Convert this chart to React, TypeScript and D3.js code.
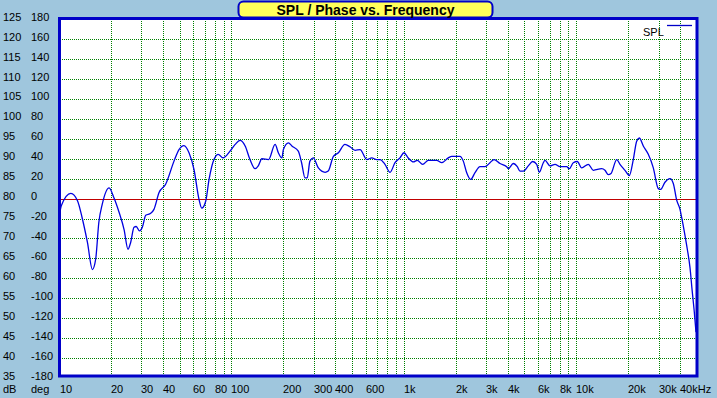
import React, { useEffect, useRef } from "react";
import * as d3 from "d3";

// SPL response (Hz, dB)
const freqHz = [
  10.1, 10.3, 11.7, 12.8, 13.6, 14.6, 15.6, 16.3, 17.0, 17.8, 19.5, 20.8, 22.3, 23.8, 25.1, 26.0,
  27.2, 28.0, 29.3, 30.4, 31.8, 34.0, 35.5, 38.0, 41.5, 46.4, 49.6, 53.0, 56.7, 60.6, 64.8, 67.2,
  70.9, 74.1, 79.1, 83.8, 89.3, 98, 105, 112, 120, 128, 137, 143, 150, 164, 179, 187, 196, 200,
  214, 224, 244, 255, 267, 275, 285, 298, 319, 349, 364, 390, 417, 455, 487, 521, 557, 609, 651,
  696, 727, 777, 831, 888, 949, 1001, 1060, 1134, 1196, 1285, 1385, 1550, 1657, 1809, 1894, 2115,
  2211, 2314, 2441, 2585, 2763, 2954, 3158, 3332, 3609, 3948, 4033, 4311, 4548, 4715, 4928, 5268,
  5586, 5893, 6101, 6436, 6583, 7038, 7525, 8045, 8797, 9108, 9607, 10134, 10750, 11740, 12550,
  14040, 14670, 15330, 15900, 17150, 17920, 19160, 20300, 21410, 22400, 23200, 24470, 26160,
  27970, 29900, 30880, 32690, 34950, 36530, 38220, 39960, 40880, 42720, 44050, 45660, 46900,
  48370, 49470,
];
const splDb = [
  76.5, 78.2, 81.3, 79.4, 75.2, 69, 62.2, 64.8, 74, 78.6, 82.7, 80.2, 76.5, 72.3, 67.3, 69,
  72.8, 73, 71.9, 72.8, 75.8, 76.3, 77.3, 81.5, 83.6, 89.4, 92.3, 93.3, 91.5, 87.3, 79.8, 77.6,
  79.4, 84.8, 89.8, 91.1, 90.2, 91.9, 93.6, 94.6, 93.2, 89.8, 87.5, 88.2, 90, 89.8, 93.6, 91.5, 90.2, 92.3,
  94, 93.2, 91.9, 89, 85.2, 85.2, 89.4, 90.2, 87.7, 86.6, 86.9, 90.6, 91.5, 93.6, 93, 92.1, 92.3, 89.8, 90.2,
  89.8, 89.8, 88.6, 86.6, 89, 90.2, 91.5, 90.2, 89.2, 89.6, 88.6, 89.6, 89.6, 89, 90.2, 90.6, 90.6,
  89.4, 86.5, 84.8, 86.5, 88, 88, 89, 89.8, 88.8, 88, 87.5, 88.8, 88, 86.9, 86.9, 88.2,
  89.3, 88.6, 86.6, 89, 89.6, 88.2, 88.6, 88, 88, 87.5, 89, 89.3, 87.7, 88.6, 87.1,
  87.5, 87.1, 86, 86.3, 89.8, 88.6, 87.1, 85.8, 89.8, 94.4, 95.2, 93.2, 91.1,
  87.7, 82.5, 82.3, 84.1, 85, 83.8, 79.6, 77.3, 75.2, 70.7, 67.3, 62.7, 57.3,
  51.5, 46.5,
];

const dbTicks = [35, 40, 45, 50, 55, 60, 65, 70, 75, 80, 85, 90, 95, 100, 105, 110, 115, 120, 125];
const degTicks = [-180, -160, -140, -120, -100, -80, -60, -40, -20, 0, 20, 40, 60, 80, 100, 120, 140, 160, 180];
const freqLabels = [
  { f: 10, t: "10" }, { f: 20, t: "20" }, { f: 30, t: "30" }, { f: 40, t: "40" }, { f: 60, t: "60" },
  { f: 80, t: "80" }, { f: 100, t: "100" }, { f: 200, t: "200" }, { f: 300, t: "300" },
  { f: 400, t: "400" }, { f: 600, t: "600" }, { f: 1000, t: "1k" }, { f: 2000, t: "2k" },
  { f: 3000, t: "3k" }, { f: 4000, t: "4k" }, { f: 6000, t: "6k" }, { f: 8000, t: "8k" },
  { f: 10000, t: "10k" }, { f: 20000, t: "20k" }, { f: 30000, t: "30k" }, { f: 40000, t: "40kHz" },
];

const W = 717;
const H = 398;
const BG = "#9fc6dd";
const FONT = "'Liberation Sans', Arial, sans-serif";

export default function App() {
  const ref = useRef<SVGSVGElement>(null);

  useEffect(() => {
    const svg = d3.select(ref.current);
    svg.selectAll("*").remove();

    const x = d3.scaleLog().domain([10, 50000]).range([59.1, 696.8]);
    const y = d3.scaleLinear().domain([35, 125]).range([378, 19.2]);

    svg.append("rect").attr("width", W).attr("height", H).attr("fill", BG);

    // plot area
    svg.append("rect").attr("x", 59).attr("y", 18).attr("width", 638).attr("height", 359).attr("fill", "#fff");

    // vertical grid: every 1-9 of each decade
    const vLines: number[] = [];
    for (let dec = 10; dec <= 10000; dec *= 10) {
      for (let m = 1; m <= 9; m++) {
        const f = dec * m;
        if (f > 10 && f < 50000) vLines.push(f);
      }
    }
    const grid = svg.append("g").attr("stroke", "#008000").attr("stroke-width", 1).attr("stroke-dasharray", "1,1").attr("shape-rendering", "crispEdges");
    grid.selectAll("line.v").data(vLines).enter().append("line")
      .attr("x1", (d) => Math.round(x(d)) + 0.5).attr("x2", (d) => Math.round(x(d)) + 0.5)
      .attr("y1", 19).attr("y2", 376);
    grid.selectAll("line.h").data(dbTicks.filter((d) => d > 35 && d < 125 && d !== 80)).enter().append("line")
      .attr("x1", 60).attr("x2", 696)
      .attr("y1", (d) => Math.round(y(d)) + 0.5).attr("y2", (d) => Math.round(y(d)) + 0.5);

    // zero line
    svg.append("line").attr("x1", 60).attr("x2", 696)
      .attr("y1", Math.round(y(80)) + 0.5).attr("y2", Math.round(y(80)) + 0.5)
      .attr("stroke", "#c00000").attr("stroke-width", 1).attr("shape-rendering", "crispEdges");

    // SPL curve
    const pts = freqHz.map((f, i) => [f, splDb[i]] as [number, number]);
    const line = d3.line<[number, number]>().x((d) => x(d[0])).y((d) => y(d[1])).curve(d3.curveMonotoneX);
    svg.append("path").datum(pts).attr("d", line).attr("fill", "none").attr("stroke", "#0000e0").attr("stroke-width", 1.3);

    // border
    svg.append("rect").attr("x", 59.5).attr("y", 18.5).attr("width", 637.5).attr("height", 357.5)
      .attr("fill", "none").attr("stroke", "#0000c8").attr("stroke-width", 3);

    // left labels
    const lab = svg.append("g").attr("font-family", FONT).attr("font-size", 11).attr("fill", "#000");
    lab.selectAll("text.db").data(dbTicks).enter().append("text")
      .attr("x", 3).attr("y", (d) => y(d) + 1.5).text((d) => String(d));
    lab.selectAll("text.deg").data(degTicks).enter().append("text")
      .attr("x", 31).attr("y", (d, i) => y(dbTicks[i]) + 1.5).text((d) => String(d));
    lab.append("text").attr("x", 3).attr("y", 393).text("dB");
    lab.append("text").attr("x", 31).attr("y", 393).text("deg");
    lab.selectAll("text.f").data(freqLabels).enter().append("text")
      .attr("x", (d) => Math.round(x(d.f)) + (d.f === 10 ? 1 : 0)).attr("y", 393).text((d) => d.t);

    // legend
    svg.append("text").attr("x", 643).attr("y", 36).attr("font-family", FONT).attr("font-size", 11).text("SPL");
    svg.append("line").attr("x1", 667).attr("x2", 692).attr("y1", 25.5).attr("y2", 25.5)
      .attr("stroke", "#0000c8").attr("stroke-width", 1.3);

    // title
    svg.append("rect").attr("x", 238.5).attr("y", 1.5).attr("width", 254).attr("height", 16).attr("rx", 5)
      .attr("fill", "#ffff5a").attr("stroke", "#0000c8").attr("stroke-width", 2);
    svg.append("text").attr("x", 365.5).attr("y", 14.5).attr("text-anchor", "middle")
      .attr("font-family", FONT).attr("font-size", 14).attr("font-weight", "bold")
      .text("SPL / Phase vs. Frequency");
  });

  return (
    <svg ref={ref} width={W} height={H} style={{ position: "absolute", left: 0, top: 0, display: "block" }} />
  );
}
